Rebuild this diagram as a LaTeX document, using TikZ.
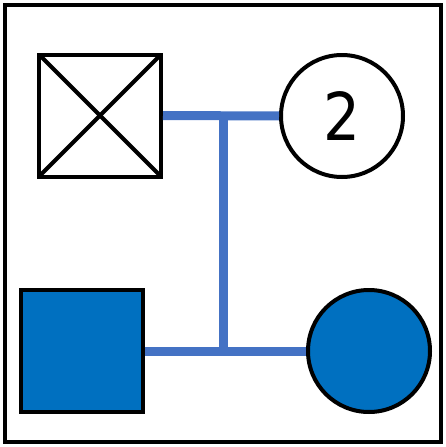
\documentclass[tikz,border=0pt]{standalone}
\usepackage{fontspec}
\newfontfamily\digitfont{DejaVu Sans}
\usetikzlibrary{positioning}
\definecolor{pedblue}{RGB}{0,112,192}
\definecolor{linkblue}{RGB}{68,114,196}
\tikzset{
  male/.style={rectangle, draw=black, line width=4pt, minimum size=122pt,
    inner sep=0pt, outer sep=0pt},
  female/.style={circle, draw=black, line width=4pt, minimum size=122pt,
    inner sep=0pt, outer sep=0pt},
  affected/.style={fill=pedblue},
  cross/.style={line width=4pt, shorten <=2pt, shorten >=2pt},
  link/.style={draw=linkblue, line width=9pt},
  couple/.style={link, shorten <=2pt, shorten >=2pt},
  frame/.style={draw=black, line width=4pt}
}
\begin{document}
\begin{tikzpicture}[x=1pt, y=-1pt]
  \useasboundingbox (0,0) rectangle (446,447);
  \draw[frame] (5,5) rectangle (441,442);

  % Row 1: parents
  \node[male] (father) at (100,115.5) {};
  \draw[cross] (father.north west) -- (father.south east);
  \draw[cross] (father.north east) -- (father.south west);
  \node[female] (mother) at (342,116)
    {\scalebox{0.88}[1]{\fontsize{66}{66}\digitfont 2}};

  % Row 2: children
  \node[male, affected] (son) at (81.5,351) {};
  \node[female, affected] (daughter) at (369,351) {};

  % Connectors
  \coordinate (top) at (223,116);
  \coordinate (bot) at (223,351);
  \draw[couple] (father.east) -- (mother.west);
  \draw[couple] (son.east) -- (daughter.west);
  \draw[link] (top) -- (bot);
\end{tikzpicture}
\end{document}
